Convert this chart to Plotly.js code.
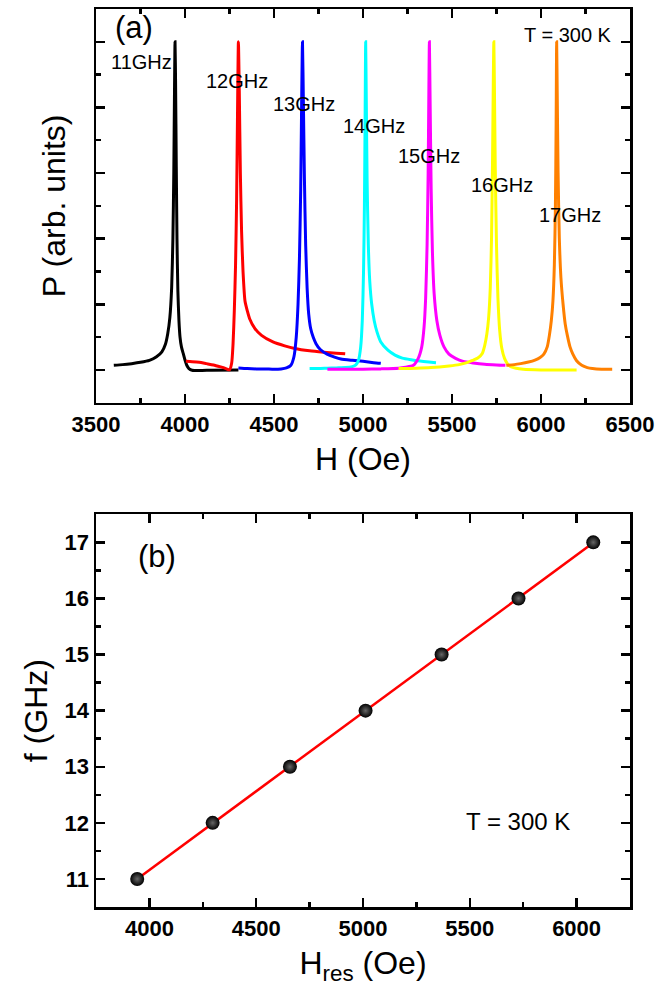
<!DOCTYPE html>
<html><head><meta charset="utf-8">
<script src="https://cdn.plot.ly/plotly-3.0.1.min.js"></script>
<style>html,body{margin:0;padding:0;background:#fff}</style>
</head><body><div id="chart" style="width:670px;height:992px"></div>
<script>
// ---- Panel (a): FMR spectra, P (arb. units) vs H (Oe)
const freqLabels = ['11GHz','12GHz','13GHz','14GHz','15GHz','16GHz','17GHz'];
const colors = ['#000000','#ff0000','#0000ff','#00ffff','#ff00ff','#ffff00','#ff8000'];

const h11 = [3600,3650,3700,3750,3800,3840,3870,3890,3903,3915,3925,3932,3937,3941,3944,3947,3951,3955,3960,3966,3972,3980,3990,4000,4010,4022,4040,4080,4150,4300];
const p11 = [0.014,0.016,0.019,0.023,0.029,0.040,0.055,0.078,0.11,0.16,0.25,0.40,0.60,0.85,1.0,0.88,0.62,0.40,0.24,0.15,0.10,0.07,0.05,0.03,0.014,0.004,-0.001,-0.002,-0.001,0.0];

const h12 = [4005,4040,4080,4120,4160,4200,4230,4250,4262,4270,4277,4284,4290,4295,4300,4305,4311,4318,4326,4337,4350,4363,4393,4430,4494,4560,4616,4700,4780,4850,4900];
const p12 = [0.026,0.025,0.023,0.019,0.015,0.009,0.004,0.0,0.02,0.08,0.18,0.32,0.52,0.78,1.0,0.85,0.6,0.42,0.3,0.21,0.18,0.156,0.126,0.105,0.085,0.073,0.065,0.058,0.054,0.051,0.049];

const h13 = [4300,4350,4400,4450,4500,4540,4570,4595,4612,4625,4635,4643,4650,4655,4660,4665,4671,4678,4686,4695,4706,4720,4736,4760,4798,4840,4876,4940,5000,5060,5100];
const p13 = [0.006,0.004,0.003,0.003,0.002,0.003,0.006,0.014,0.04,0.1,0.2,0.34,0.55,0.8,1.0,0.82,0.58,0.38,0.25,0.17,0.126,0.1,0.08,0.062,0.048,0.039,0.033,0.029,0.026,0.022,0.02];

const h14 = [4700,4750,4800,4850,4900,4940,4960,4975,4987,4996,5003,5008,5012,5015,5018,5023,5030,5038,5049,5063,5079,5100,5140,5180,5221,5270,5320,5370,5410];
const p14 = [0.004,0.004,0.005,0.006,0.007,0.01,0.015,0.03,0.07,0.15,0.3,0.5,0.78,1.0,0.85,0.58,0.38,0.27,0.2,0.15,0.115,0.085,0.06,0.045,0.036,0.031,0.027,0.024,0.022];

const h15 = [4800,4900,5000,5100,5200,5240,5281,5311,5330,5343,5352,5360,5366,5370,5373,5377,5383,5390,5400,5415,5432,5455,5483,5520,5563,5620,5684,5750,5800];
const p15 = [0.002,0.002,0.002,0.003,0.005,0.008,0.013,0.036,0.07,0.13,0.22,0.38,0.6,0.85,1.0,0.82,0.55,0.36,0.23,0.15,0.105,0.07,0.048,0.035,0.026,0.021,0.017,0.015,0.014];

const h16 = [5200,5300,5382,5483,5540,5584,5620,5645,5670,5684,5696,5706,5715,5722,5728,5732,5735,5738,5743,5750,5758,5768,5780,5795,5810,5830,5860,5900,6000,6100,6200];
const p16 = [0.004,0.005,0.007,0.012,0.016,0.022,0.03,0.036,0.05,0.075,0.11,0.16,0.25,0.4,0.65,0.88,1.0,0.88,0.62,0.38,0.22,0.12,0.065,0.035,0.02,0.01,0.005,0.002,0.0,0.0,0.0];

const h17 = [5805,5850,5886,5930,5966,5995,6016,6035,6047,6058,6067,6075,6081,6085,6088,6091,6096,6103,6112,6124,6136,6148,6163,6179,6200,6229,6260,6289,6340,6400];
const p17 = [0.014,0.016,0.019,0.024,0.03,0.038,0.048,0.07,0.105,0.15,0.21,0.32,0.5,0.75,1.0,0.85,0.6,0.4,0.28,0.2,0.14,0.105,0.07,0.048,0.028,0.014,0.007,0.004,0.002,0.002];

// label positions (data coords) for the frequency tags
const labelH = [3755,4292,4666,5059,5371,5781,6163];
const labelP = [0.939,0.881,0.811,0.742,0.653,0.565,0.471];

// ---- Panel (b): f vs H_res
const fGHz = [11,12,13,14,15,16,17];
const hRes = [3943,4296,4658,5012,5368,5728,6078];

// linear least-squares fit of the panel (b) data
const n = hRes.length;
const mx = hRes.reduce((a,b)=>a+b,0)/n, my = fGHz.reduce((a,b)=>a+b,0)/n;
let sxy=0, sxx=0;
for(let i=0;i<n;i++){ sxy += (hRes[i]-mx)*(fGHz[i]-my); sxx += (hRes[i]-mx)**2; }
const slope = sxy/sxx, icpt = my - slope*mx;
const fitX = [Math.min(...hRes), Math.max(...hRes)];
const fitY = fitX.map(v=>icpt+slope*v);

const spectraH = [h11,h12,h13,h14,h15,h16,h17];
const spectraP = [p11,p12,p13,p14,p15,p16,p17];

const FONT = 'Liberation Sans, Arial, sans-serif';
const traces = [];
for(let i=0;i<spectraH.length;i++){
  traces.push({x:spectraH[i], y:spectraP[i], type:'scatter', mode:'lines', name:freqLabels[i],
    line:{color:colors[i], width:3, shape:'spline', smoothing:0.6}, xaxis:'x', yaxis:'y', hoverinfo:'skip'});
}
traces.push({x:fitX, y:fitY, type:'scatter', mode:'lines', line:{color:'#ff0000', width:2.5}, xaxis:'x2', yaxis:'y2', name:'fit'});
traces.push({x:hRes, y:fGHz, type:'scatter', mode:'markers', xaxis:'x2', yaxis:'y2', name:'data',
  marker:{size:14, color:'#000000', gradient:{type:'radial', color:'#666666'}, line:{width:0}}});

function axisBase(){
  return {showline:true, linecolor:'#000', linewidth:2.5, mirror:'ticks', ticks:'inside', ticklen:9, tickwidth:2.5,
    tickcolor:'#000', showgrid:false, zeroline:false,
    tickfont:{family:FONT, size:22, color:'#000', weight:'bold'},
    minor:{ticks:'inside', ticklen:5, tickwidth:2.5, tickcolor:'#000', showgrid:false}};
}
const xa = Object.assign(axisBase(), {range:[3500,6500], tick0:3500, dtick:500, anchor:'y', domain:[0,1],
  title:{text:'H (Oe)', font:{family:FONT, size:32, color:'#000'}, standoff:12}, automargin:true});
xa.minor.dtick = 250;
const ya = Object.assign(axisBase(), {range:[-0.1,1.1], tick0:0, dtick:0.2, anchor:'x', domain:[0.5616,1], showticklabels:false,
  title:{text:'P (arb. units)', font:{family:FONT, size:32, color:'#000'}, standoff:19}, automargin:true});
ya.minor.dtick = 0.1;
const xb = Object.assign(axisBase(), {range:[3750,6250], tick0:4000, dtick:500, anchor:'y2', domain:[0,1],
  title:{text:'H<sub>res</sub> (Oe)', font:{family:FONT, size:32, color:'#000'}, standoff:12}, automargin:true});
xb.minor.dtick = 250;
const yb = Object.assign(axisBase(), {range:[10.5,17.5], tick0:11, dtick:1, anchor:'x2', domain:[0,0.4373],
  title:{text:'f (GHz)', font:{family:FONT, size:32, color:'#000'}, standoff:8}, automargin:true});
yb.minor.dtick = 0.5;

const annotations = [];
for(let i=0;i<freqLabels.length;i++){
  annotations.push({x:labelH[i], y:labelP[i], xref:'x', yref:'y', text:freqLabels[i], showarrow:false,
    font:{family:FONT, size:20, color:'#000'}});
}
annotations.push({x:3713, y:1.043, xref:'x', yref:'y', text:'(a)', showarrow:false, font:{family:FONT, size:31, color:'#000'}});
annotations.push({x:6152, y:1.021, xref:'x', yref:'y', text:'T = 300 K', showarrow:false, font:{family:FONT, size:20, color:'#000'}});
annotations.push({x:4036, y:16.75, xref:'x2', yref:'y2', text:'(b)', showarrow:false, font:{family:FONT, size:31, color:'#000'}});
annotations.push({x:5725, y:12.02, xref:'x2', yref:'y2', text:'T = 300 K', showarrow:false, font:{family:FONT, size:24, color:'#000'}});

const layout = {width:670, height:992, margin:{l:96, r:40, t:6, b:85}, paper_bgcolor:'#fff', plot_bgcolor:'#fff',
  showlegend:false, font:{family:FONT, color:'#000'},
  xaxis:xa, yaxis:ya, xaxis2:xb, yaxis2:yb, annotations:annotations};

Plotly.newPlot('chart', traces, layout, {displayModeBar:false, staticPlot:true});
</script></body></html>
